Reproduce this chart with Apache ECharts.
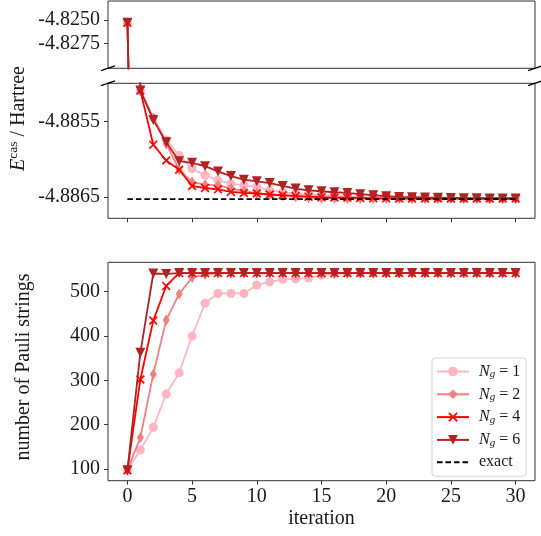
<!DOCTYPE html>
<html>
<head>
<meta charset="utf-8">
<script src="https://cdn.jsdelivr.net/npm/echarts@6/dist/echarts.min.js"></script>
<style>
  html, body { margin: 0; padding: 0; background: #fff; }
  #chart { width: 541px; height: 536px; }
</style>
</head>
<body>
<div id="chart"></div>
<script>
// iteration index (x axis)
const iterations = [0, 1, 2, 3, 4, 5, 6, 7, 8, 9, 10, 11, 12, 13, 14, 15, 16, 17, 18, 19, 20, 21, 22, 23, 24, 25, 26, 27, 28, 29, 30];

// E_cas (Hartree) per iteration
const energyNg1 = [-4.82529, -4.885087, -4.885447, -4.885745, -4.885951, -4.886126, -4.886214, -4.886280, -4.886324, -4.886346,
  -4.886368, -4.886412, -4.886434, -4.886455, -4.886468, -4.886478, -4.886487, -4.886497, -4.886504, -4.886508,
  -4.886511, -4.886514, -4.886517, -4.886517, -4.886519, -4.886519, -4.886520, -4.886520, -4.886521, -4.886521, -4.886521];
const energyNg2 = [-4.82529, -4.885087, -4.885455, -4.885797, -4.886139, -4.886303, -4.886337, -4.886346, -4.886386, -4.886425,
  -4.886451, -4.886471, -4.886484, -4.886497, -4.886511, -4.886517, -4.886519, -4.886520, -4.886521, -4.886521,
  -4.886521, -4.886521, -4.886521, -4.886521, -4.886521, -4.886521, -4.886521, -4.886521, -4.886521, -4.886521, -4.886521];
const energyNg4 = [-4.82529, -4.885087, -4.885807, -4.886017, -4.886139, -4.886355, -4.886382, -4.886399, -4.886434, -4.886447,
  -4.886455, -4.886468, -4.886478, -4.886487, -4.886497, -4.886504, -4.886508, -4.886511, -4.886514, -4.886517,
  -4.886519, -4.886520, -4.886521, -4.886521, -4.886521, -4.886521, -4.886521, -4.886521, -4.886521, -4.886521, -4.886521];
const energyNg6 = [-4.82529, -4.885087, -4.885478, -4.885776, -4.886026, -4.886047, -4.886092, -4.886162, -4.886224, -4.886271,
  -4.886293, -4.886316, -4.886355, -4.886389, -4.886412, -4.886425, -4.886438, -4.886447, -4.886464, -4.886478,
  -4.886491, -4.886500, -4.886504, -4.886508, -4.886511, -4.886514, -4.886517, -4.886519, -4.886520, -4.886521, -4.886521];
const exactEnergy = -4.88653;

// number of Pauli strings per iteration
const pauliNg1 = [97, 143, 194, 269, 317, 400, 474, 496, 496, 496, 515, 522, 528, 529, 531, 537, 540, 542, 542, 542,
  542, 542, 542, 542, 542, 542, 542, 542, 542, 542, 542];
const pauliNg2 = [97, 171, 314, 436, 495, 532, 539, 542, 542, 542, 542, 542, 542, 542, 542, 542, 542, 542, 542, 542,
  542, 542, 542, 542, 542, 542, 542, 542, 542, 542, 542];
const pauliNg4 = [97, 302, 435, 513, 542, 542, 542, 542, 542, 542, 542, 542, 542, 542, 542, 542, 542, 542, 542, 542,
  542, 542, 542, 542, 542, 542, 542, 542, 542, 542, 542];
const pauliNg6 = [97, 362, 541, 540, 542, 542, 542, 542, 542, 542, 542, 542, 542, 542, 542, 542, 542, 542, 542, 542,
  542, 542, 542, 542, 542, 542, 542, 542, 542, 542, 542];

// tick labels
const xTicks = [0, 5, 10, 15, 20, 25, 30];
const energyTopTicks = [-4.8250, -4.8275];
const energyMidTicks = [-4.8855, -4.8865];
const pauliTicks = [100, 200, 300, 400, 500];
const seriesNames = ['N_g = 1', 'N_g = 2', 'N_g = 4', 'N_g = 6'];

const FONT = 'Liberation Serif';
const TXT = '#1a1a1a';
const EDGE = '#333';

const styles = [
  { color: '#FFB6C1', symbol: 'circle', size: 9 },
  { color: '#F08080', symbol: 'path://M3,0L6,5L3,10L0,5Z', size: [7, 11] },
  { color: '#FF0000', symbol: 'path://M0,1.3L1.3,0L5,3.7L8.7,0L10,1.3L6.3,5L10,8.7L8.7,10L5,6.3L1.3,10L0,8.7L3.7,5Z', size: 9 },
  { color: '#B22222', symbol: 'path://M0,0L10,0L5,9Z', size: 10 }
];
const energies = [energyNg1, energyNg2, energyNg4, energyNg6];
const paulis = [pauliNg1, pauliNg2, pauliNg4, pauliNg6];

// panel placement (px)
const L = 108, R = 6;
const grids = [
  { left: L, right: R, top: 1, height: 67.3 },
  { left: L, right: R, top: 83.3, height: 135 },
  { left: L, right: R, top: 262.3, height: 218.4 }
];

function pairs(ys) { return iterations.map((x, i) => [x, ys[i]]); }

function makeX(idx, withLabels, withTicks) {
  return {
    type: 'value', gridIndex: idx, min: -1.5, max: 31.5,
    axisLine: { show: false, onZero: false },
    splitLine: { show: false },
    axisTick: { show: withTicks, customValues: xTicks, length: 4, lineStyle: { color: EDGE } },
    axisLabel: { show: withLabels, customValues: xTicks, margin: 6, fontFamily: FONT, fontSize: 20, color: TXT }
  };
}
function makeY(idx, min, max, ticks, fmt) {
  return {
    type: 'value', gridIndex: idx, min: min, max: max,
    axisLine: { show: false, onZero: false },
    splitLine: { show: false },
    axisTick: { show: true, customValues: ticks, length: 4, lineStyle: { color: EDGE } },
    axisLabel: { customValues: ticks, margin: 8, fontFamily: FONT, fontSize: 20, color: TXT, formatter: fmt }
  };
}

const series = [];
seriesNames.forEach((name, k) => {
  const st = styles[k];
  [0, 1].forEach(g => {
    series.push({
      name: name, type: 'line', xAxisIndex: g, yAxisIndex: g,
      data: pairs(energies[k]), clip: true,
      symbol: st.symbol, symbolSize: st.size,
      lineStyle: { color: st.color, width: 1.8 },
      itemStyle: { color: st.color },
      z: 2 + k
    });
  });
  series.push({
    name: name, type: 'line', xAxisIndex: 2, yAxisIndex: 2,
    data: pairs(paulis[k]), clip: true,
    symbol: st.symbol, symbolSize: st.size,
    lineStyle: { color: st.color, width: 1.8 },
    itemStyle: { color: st.color },
    z: 2 + k
  });
});
series.push({
  name: 'exact', type: 'line', xAxisIndex: 1, yAxisIndex: 1,
  data: [[iterations[0], exactEnergy], [iterations[iterations.length - 1], exactEnergy]],
  symbol: 'circle', symbolSize: 0, showSymbol: false,
  lineStyle: { color: '#000', width: 1.6, type: [5.5, 3] },
  itemStyle: { color: '#000' },
  z: 10
});

// diagonal break marks at the axis break
const breakMarks = [];
[68.3, 83.3].forEach(y => {
  [L, 541 - R].forEach(x => {
    breakMarks.push({
      type: 'line', silent: true,
      shape: { x1: x - 7, y1: y + 2.4, x2: x + 7, y2: y - 2.4 },
      style: { stroke: '#000', lineWidth: 1.3 }
    });
  });
});

const chart = echarts.init(document.getElementById('chart'), null, { renderer: 'canvas' });
chart.setOption({
  animation: false,
  backgroundColor: '#fff',
  grid: grids.map(g => Object.assign({ show: true, borderColor: EDGE, borderWidth: 1, backgroundColor: 'transparent' }, g)),
  xAxis: [makeX(0, false, false), makeX(1, false, true), makeX(2, true, true)],
  yAxis: [
    makeY(0, -4.83018, -4.82296, energyTopTicks, v => v.toFixed(4)),
    makeY(1, -4.886784, -4.884992, energyMidTicks, v => v.toFixed(4)),
    makeY(2, 73.6, 566.3, pauliTicks, v => String(v))
  ],
  legend: {
    data: seriesNames.concat([{ name: 'exact', itemStyle: { color: 'rgba(0,0,0,0)', borderWidth: 0 } }]),
    orient: 'vertical',
    left: 432, top: 358,
    padding: [5, 6, 6, 4],
    itemWidth: 32, itemHeight: 12, itemGap: 5.8,
    backgroundColor: 'rgba(255,255,255,0.85)',
    borderColor: '#d6d6d6', borderWidth: 1, borderRadius: 3,
    selectedMode: false,
    formatter: name => name === 'exact' ? '{r|exact}' : '{n|N}{s|g}{r| = ' + name.slice(-1) + '}',
    textStyle: {
      fontFamily: FONT, fontSize: 16, color: TXT, padding: [0, 0, 0, 5],
      rich: {
        n: { fontFamily: FONT, fontStyle: 'italic', fontSize: 16, color: TXT, lineHeight: 16 },
        s: { fontFamily: FONT, fontStyle: 'italic', fontSize: 11, color: TXT, lineHeight: 10, padding: [6, 0, 0, 0] },
        r: { fontFamily: FONT, fontSize: 16, color: TXT, lineHeight: 16 }
      }
    }
  },
  graphic: breakMarks.concat([
    {
      type: 'text', x: 18.5, y: 118.5, rotation: Math.PI / 2, silent: true,
      style: {
        text: '{e|E}{c|cas}{h| / Hartree}',
        align: 'center', verticalAlign: 'middle',
        rich: {
          e: { fontFamily: FONT, fontStyle: 'italic', fontSize: 20, fill: TXT, lineHeight: 24 },
          c: { fontFamily: FONT, fontSize: 13.5, fill: TXT, lineHeight: 14, padding: [0, 0, 10, 0] },
          h: { fontFamily: FONT, fontSize: 20, fill: TXT, lineHeight: 24 }
        }
      }
    },
    {
      type: 'text', x: 24, y: 367, rotation: Math.PI / 2, silent: true,
      style: { text: 'number of Pauli strings', fontFamily: FONT, fontSize: 20, fill: TXT, align: 'center', verticalAlign: 'middle' }
    },
    {
      type: 'text', x: 321.5, y: 519, silent: true,
      style: { text: 'iteration', fontFamily: FONT, fontSize: 20, fill: TXT, align: 'center', verticalAlign: 'middle' }
    }
  ]),
  series: series
});
</script>
</body>
</html>
